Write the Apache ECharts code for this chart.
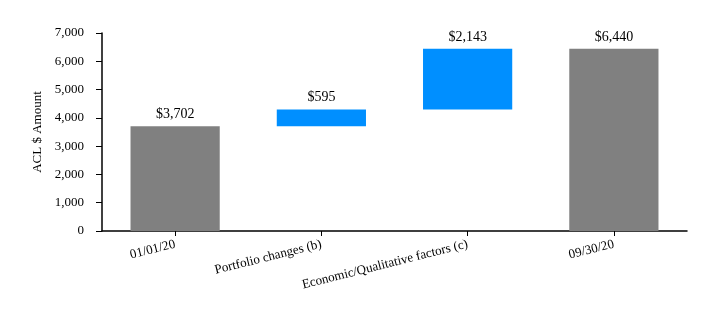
<!DOCTYPE html>
<html>
<head>
<meta charset="utf-8">
<script src="https://cdn.jsdelivr.net/npm/echarts@6/dist/echarts.min.js"></script>
<style>
html,body{margin:0;padding:0;background:#fff;}
#chart{width:720px;height:329px;}
</style>
</head>
<body>
<div id="chart"></div>
<script>
const categories = ['01/01/20', 'Portfolio changes (b)', 'Economic/Qualitative factors (c)', '09/30/20'];
const values = [3702, 595, 2143, 6440];
const isTotal = [true, false, false, true];
const yTicks = [0, 1000, 2000, 3000, 4000, 5000, 6000, 7000];

const GRAY = '#808080';
const BLUE = '#008FFF';
const FONT = '"Liberation Serif", "Times New Roman", serif';

// waterfall bases from cumulative values
const bases = [];
let running = 0;
values.forEach((v, i) => {
  if (isTotal[i]) { bases.push(0); running = v; }
  else { bases.push(running); running += v; }
});

const chart = echarts.init(document.getElementById('chart'));
chart.setOption({
  animation: false,
  grid: { left: 102, right: 33, top: 33, bottom: 98 },
  xAxis: {
    type: 'category',
    data: categories,
    axisLine: { lineStyle: { color: '#000', width: 1.5 } },
    axisTick: { show: true, alignWithLabel: true, length: 5, lineStyle: { color: '#000' } },
    axisLabel: { rotate: 14, color: '#000', fontFamily: FONT, fontSize: 13, interval: 0, margin: 13 }
  },
  yAxis: {
    type: 'value',
    min: yTicks[0],
    max: yTicks[yTicks.length - 1],
    interval: 1000,
    name: 'ACL $ Amount',
    nameLocation: 'middle',
    nameGap: 56,
    nameTextStyle: { color: '#000', fontFamily: FONT, fontSize: 13 },
    axisLine: { show: true, lineStyle: { color: '#000', width: 1.5 } },
    axisTick: { show: true, length: 6, lineStyle: { color: '#000' } },
    splitLine: { show: false },
    axisLabel: {
      color: '#000', fontFamily: FONT, fontSize: 13, margin: 18,
      formatter: v => v.toLocaleString('en-US')
    }
  },
  series: [
    {
      type: 'bar',
      stack: 'w',
      data: bases,
      itemStyle: { color: 'transparent' },
      barWidth: '61%',
      silent: true
    },
    {
      type: 'bar',
      stack: 'w',
      data: values.map((v, i) => ({ value: v, itemStyle: { color: isTotal[i] ? GRAY : BLUE } })),
      barWidth: '61%',
      label: {
        show: true,
        position: 'top',
        distance: 5,
        color: '#000',
        fontFamily: FONT,
        fontSize: 14,
        formatter: p => '$' + p.value.toLocaleString('en-US')
      }
    }
  ]
});
</script>
</body>
</html>
